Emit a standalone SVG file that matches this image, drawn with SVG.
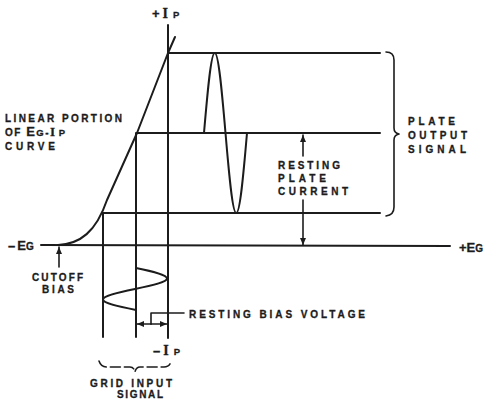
<svg xmlns="http://www.w3.org/2000/svg" width="493" height="401" viewBox="0 0 493 401">
<style>
.ln{fill:none;stroke:#1c1c1c;stroke-width:2;stroke-linecap:round;stroke-linejoin:round}
.th{fill:none;stroke:#1c1c1c;stroke-width:1.6;stroke-linecap:round;stroke-linejoin:round}
.tx{font-family:"Liberation Sans","DejaVu Sans",sans-serif;font-weight:bold;font-size:10px;fill:#1c1c1c;stroke:#1c1c1c;stroke-width:0.3}
.sm{font-size:8px}
.sf{font-family:"Liberation Serif",serif;font-size:12px}
.big{font-size:13px}
.mid{font-size:9.5px}
</style>
<defs>
<marker id="ah" markerUnits="userSpaceOnUse" markerWidth="8" markerHeight="6" refX="7" refY="3" orient="auto">
<path d="M0,0 L7,3 L0,6 z" fill="#1c1c1c"/>
</marker>
</defs>
<rect width="493" height="401" fill="#fff"/>
<g id="axes">
<line class="ln" x1="168" y1="25" x2="168" y2="338"/>
<line class="ln" x1="41" y1="245" x2="450" y2="246"/>
</g>
<g id="grid-lines">
<line class="ln" x1="168" y1="53" x2="380" y2="53"/>
<line class="ln" x1="137" y1="133" x2="380" y2="133"/>
<line class="ln" x1="103" y1="213" x2="380" y2="213"/>
<line class="ln" x1="103" y1="213" x2="103" y2="337"/>
<line class="ln" x1="136" y1="133" x2="136" y2="337"/>
</g>
<g id="characteristic-curve">
<path class="ln" d="M58,245 C80,244 96,232 107,200 L137,133 L168,53 L175,37"/>
</g>
<g id="output-wave">
<path class="ln" d="M204,133 C207.5,92 210.9,53 214.75,53 C218.6,53 222,92 225.5,133 C229,174 232.4,213 236.25,213 C240.1,213 243.5,174 247,133"/>
</g>
<g id="input-wave">
<path class="ln" d="M136,268 C152.4,271.4 167,274.7 167,278.5 C167,282.3 151.4,285.6 135,289 C118.6,292.4 103,295.7 103,299.5 C103,303.3 118.6,306.6 136,310"/>
</g>
<g id="connectors">
<line class="th" x1="303" y1="156" x2="303" y2="135" marker-end="url(#ah)"/>
<line class="th" x1="303" y1="200" x2="303" y2="245" marker-end="url(#ah)"/>
<line class="th" x1="59" y1="267" x2="59" y2="247" marker-end="url(#ah)"/>
<line class="th" x1="151" y1="324" x2="137" y2="324" marker-end="url(#ah)"/>
<line class="th" x1="151" y1="324" x2="167" y2="324" marker-end="url(#ah)"/>
<polyline class="th" points="151,324 151,313 184,313"/>
<path class="th" d="M386,52 Q394,52 394,60 L394,128 Q394,133 399,134 Q394,135 394,140 L394,207 Q394,215 386,216"/>
<path class="th" stroke-dasharray="10 4" d="M99,361 Q101,367 107,367 L130,367 Q134,367 135,372 Q136,367 140,367 L164,367 Q170,367 171,361"/>
</g>
<g id="labels">
<text class="tx big" x="152" y="18">+<tspan class="sf" style="font-size:14px" dx="3">I</tspan><tspan class="mid" dx="5">P</tspan></text>
<text class="tx" x="5" y="122" textLength="117" lengthAdjust="spacing">LINEAR PORTION</text>
<text class="tx" x="5" y="136" letter-spacing="1.5">OF <tspan class="big">E</tspan><tspan class="mid">G</tspan>-<tspan class="sf" style="font-size:13px">I</tspan><tspan class="mid" dx="2">P</tspan></text>
<text class="tx" x="5" y="150" textLength="50" lengthAdjust="spacing">CURVE</text>
<text class="tx" x="408" y="125" textLength="47" lengthAdjust="spacing">PLATE</text>
<text class="tx" x="408" y="139" textLength="59" lengthAdjust="spacing">OUTPUT</text>
<text class="tx" x="408" y="153" textLength="58" lengthAdjust="spacing">SIGNAL</text>
<text class="tx" x="278" y="169" textLength="62" lengthAdjust="spacing">RESTING</text>
<text class="tx" x="278" y="182" textLength="48" lengthAdjust="spacing">PLATE</text>
<text class="tx" x="278" y="195" textLength="70" lengthAdjust="spacing">CURRENT</text>
<text class="tx big" x="8" y="250">–<tspan dx="2">E</tspan><tspan style="font-size:10px">G</tspan></text>
<text class="tx big" x="459" y="252">+E<tspan style="font-size:10px">G</tspan></text>
<text class="tx" x="32" y="281" textLength="51" lengthAdjust="spacing">CUTOFF</text>
<text class="tx" x="42" y="293" textLength="32" lengthAdjust="spacing">BIAS</text>
<text class="tx" x="189" y="318" textLength="176" lengthAdjust="spacing">RESTING BIAS VOLTAGE</text>
<text class="tx big" x="153" y="355">–<tspan class="sf" style="font-size:14px" dx="3">I</tspan><tspan class="mid" dx="5">P</tspan></text>
<text class="tx" x="90" y="387" textLength="82" lengthAdjust="spacing">GRID INPUT</text>
<text class="tx" x="117" y="398" textLength="46" lengthAdjust="spacing">SIGNAL</text>
</g>
</svg>
